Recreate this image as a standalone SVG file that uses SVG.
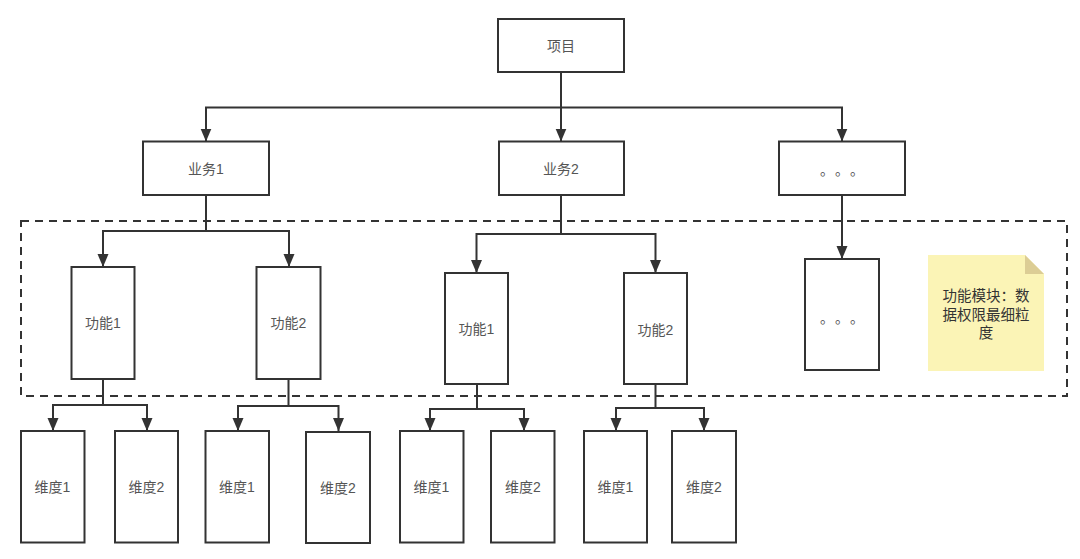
<svg xmlns="http://www.w3.org/2000/svg" width="1080" height="559" viewBox="0 0 1080 559">
  <style>
    .box { fill: #ffffff; stroke: #333333; stroke-width: 2; }
    .lbl { font-family: "Liberation Sans", "Noto Sans CJK SC", sans-serif; font-size: 14px; fill: #555555; text-anchor: middle; dominant-baseline: central; }
    .dots { font-family: "Noto Sans CJK SC", sans-serif; font-size: 14px; fill: #555555; text-anchor: middle; }
    .note-t { font-family: "Liberation Sans", "Noto Sans CJK SC", sans-serif; font-size: 14.5px; fill: #333333; text-anchor: middle; dominant-baseline: central; }
    .edge { fill: none; stroke: #333333; stroke-width: 2; marker-end: url(#arr); }
    .frame { fill: none; stroke: #333333; stroke-width: 2; stroke-dasharray: 8 6; }
  </style>
  <defs>
    <marker id="arr" markerUnits="userSpaceOnUse" markerWidth="14" markerHeight="12" refX="13" refY="5.5" orient="auto">
      <path d="M0,0 L13,5.5 L0,11 z" fill="#333333"/>
    </marker>
  </defs>
  <rect width="1080" height="559" fill="#ffffff"/>

  <rect id="frame" class="frame" x="21" y="221" width="1046" height="175"/>

  <g id="note">
    <path d="M928,255 H1025 L1044,274 V371 H928 Z" fill="#fbf4b6"/>
    <path d="M1025,255 L1044,274 H1025 Z" fill="#dccd95"/>
    <text class="note-t" x="986" y="296">功能模块：数</text>
    <text class="note-t" x="986" y="314.5">据权限最细粒</text>
    <text class="note-t" x="986" y="333">度</text>
  </g>

  <g id="connectors">
    <path class="edge" d="M561,72 V107.5 H206 V141.5"/>
    <path class="edge" d="M561,72 V141.5"/>
    <path class="edge" d="M561,107.5 H842 V141.5"/>
    <path class="edge" d="M206,195 V231 H103 V267"/>
    <path class="edge" d="M206,231 H289 V267"/>
    <path class="edge" d="M561,195 V234 H476.5 V273"/>
    <path class="edge" d="M561,234 H655.5 V273"/>
    <path class="edge" d="M842,195 V259"/>
    <path class="edge" d="M103,379 V405 H53 V431"/>
    <path class="edge" d="M103,405 H147 V431"/>
    <path class="edge" d="M288.5,379 V406 H238 V431"/>
    <path class="edge" d="M288.5,406 H338.5 V431"/>
    <path class="edge" d="M477,384 V409 H430 V431"/>
    <path class="edge" d="M477,409 H524 V431"/>
    <path class="edge" d="M655.5,384 V408 H616 V431"/>
    <path class="edge" d="M655.5,408 H704 V431"/>
  </g>

  <g id="n-project"><rect class="box" x="498" y="19" width="126" height="53"/><text class="lbl" x="561" y="46">项目</text></g>
  <g id="n-biz1"><rect class="box" x="143" y="141.5" width="126" height="53.5"/><text class="lbl" x="206" y="168.5">业务1</text></g>
  <g id="n-biz2"><rect class="box" x="499" y="141.5" width="125" height="53.5"/><text class="lbl" x="561" y="168.5">业务2</text></g>
  <g id="n-bizmore"><rect class="box" x="779" y="141.5" width="126" height="53.5"/><text class="dots" x="827 842 857" y="175">。。。</text></g>

  <g id="n-f11"><rect class="box" x="71.5" y="267" width="63" height="112"/><text class="lbl" x="103" y="323">功能1</text></g>
  <g id="n-f12"><rect class="box" x="256.5" y="267" width="64" height="112"/><text class="lbl" x="288.5" y="323">功能2</text></g>
  <g id="n-f21"><rect class="box" x="445" y="273" width="63" height="111"/><text class="lbl" x="476.5" y="329">功能1</text></g>
  <g id="n-f22"><rect class="box" x="624" y="273" width="63" height="111"/><text class="lbl" x="655.5" y="330">功能2</text></g>
  <g id="n-fmore"><rect class="box" x="805" y="259" width="74" height="111"/><text class="dots" x="827 842 857" y="322.5">。。。</text></g>

  <g id="n-d111"><rect class="box" x="21" y="431" width="63.5" height="111.5"/><text class="lbl" x="52.5" y="487">维度1</text></g>
  <g id="n-d112"><rect class="box" x="115" y="431" width="63" height="111.5"/><text class="lbl" x="146.5" y="487">维度2</text></g>
  <g id="n-d121"><rect class="box" x="205.5" y="431" width="63.5" height="111.5"/><text class="lbl" x="237" y="487">维度1</text></g>
  <g id="n-d122"><rect class="box" x="306" y="432" width="64" height="111"/><text class="lbl" x="338" y="488">维度2</text></g>
  <g id="n-d211"><rect class="box" x="400" y="431" width="63.5" height="111.5"/><text class="lbl" x="431.5" y="487">维度1</text></g>
  <g id="n-d212"><rect class="box" x="491" y="431" width="63.5" height="111.5"/><text class="lbl" x="523" y="487">维度2</text></g>
  <g id="n-d221"><rect class="box" x="584" y="431" width="63" height="111.5"/><text class="lbl" x="615.5" y="487">维度1</text></g>
  <g id="n-d222"><rect class="box" x="672" y="431" width="64" height="111.5"/><text class="lbl" x="704" y="487">维度2</text></g>
</svg>
